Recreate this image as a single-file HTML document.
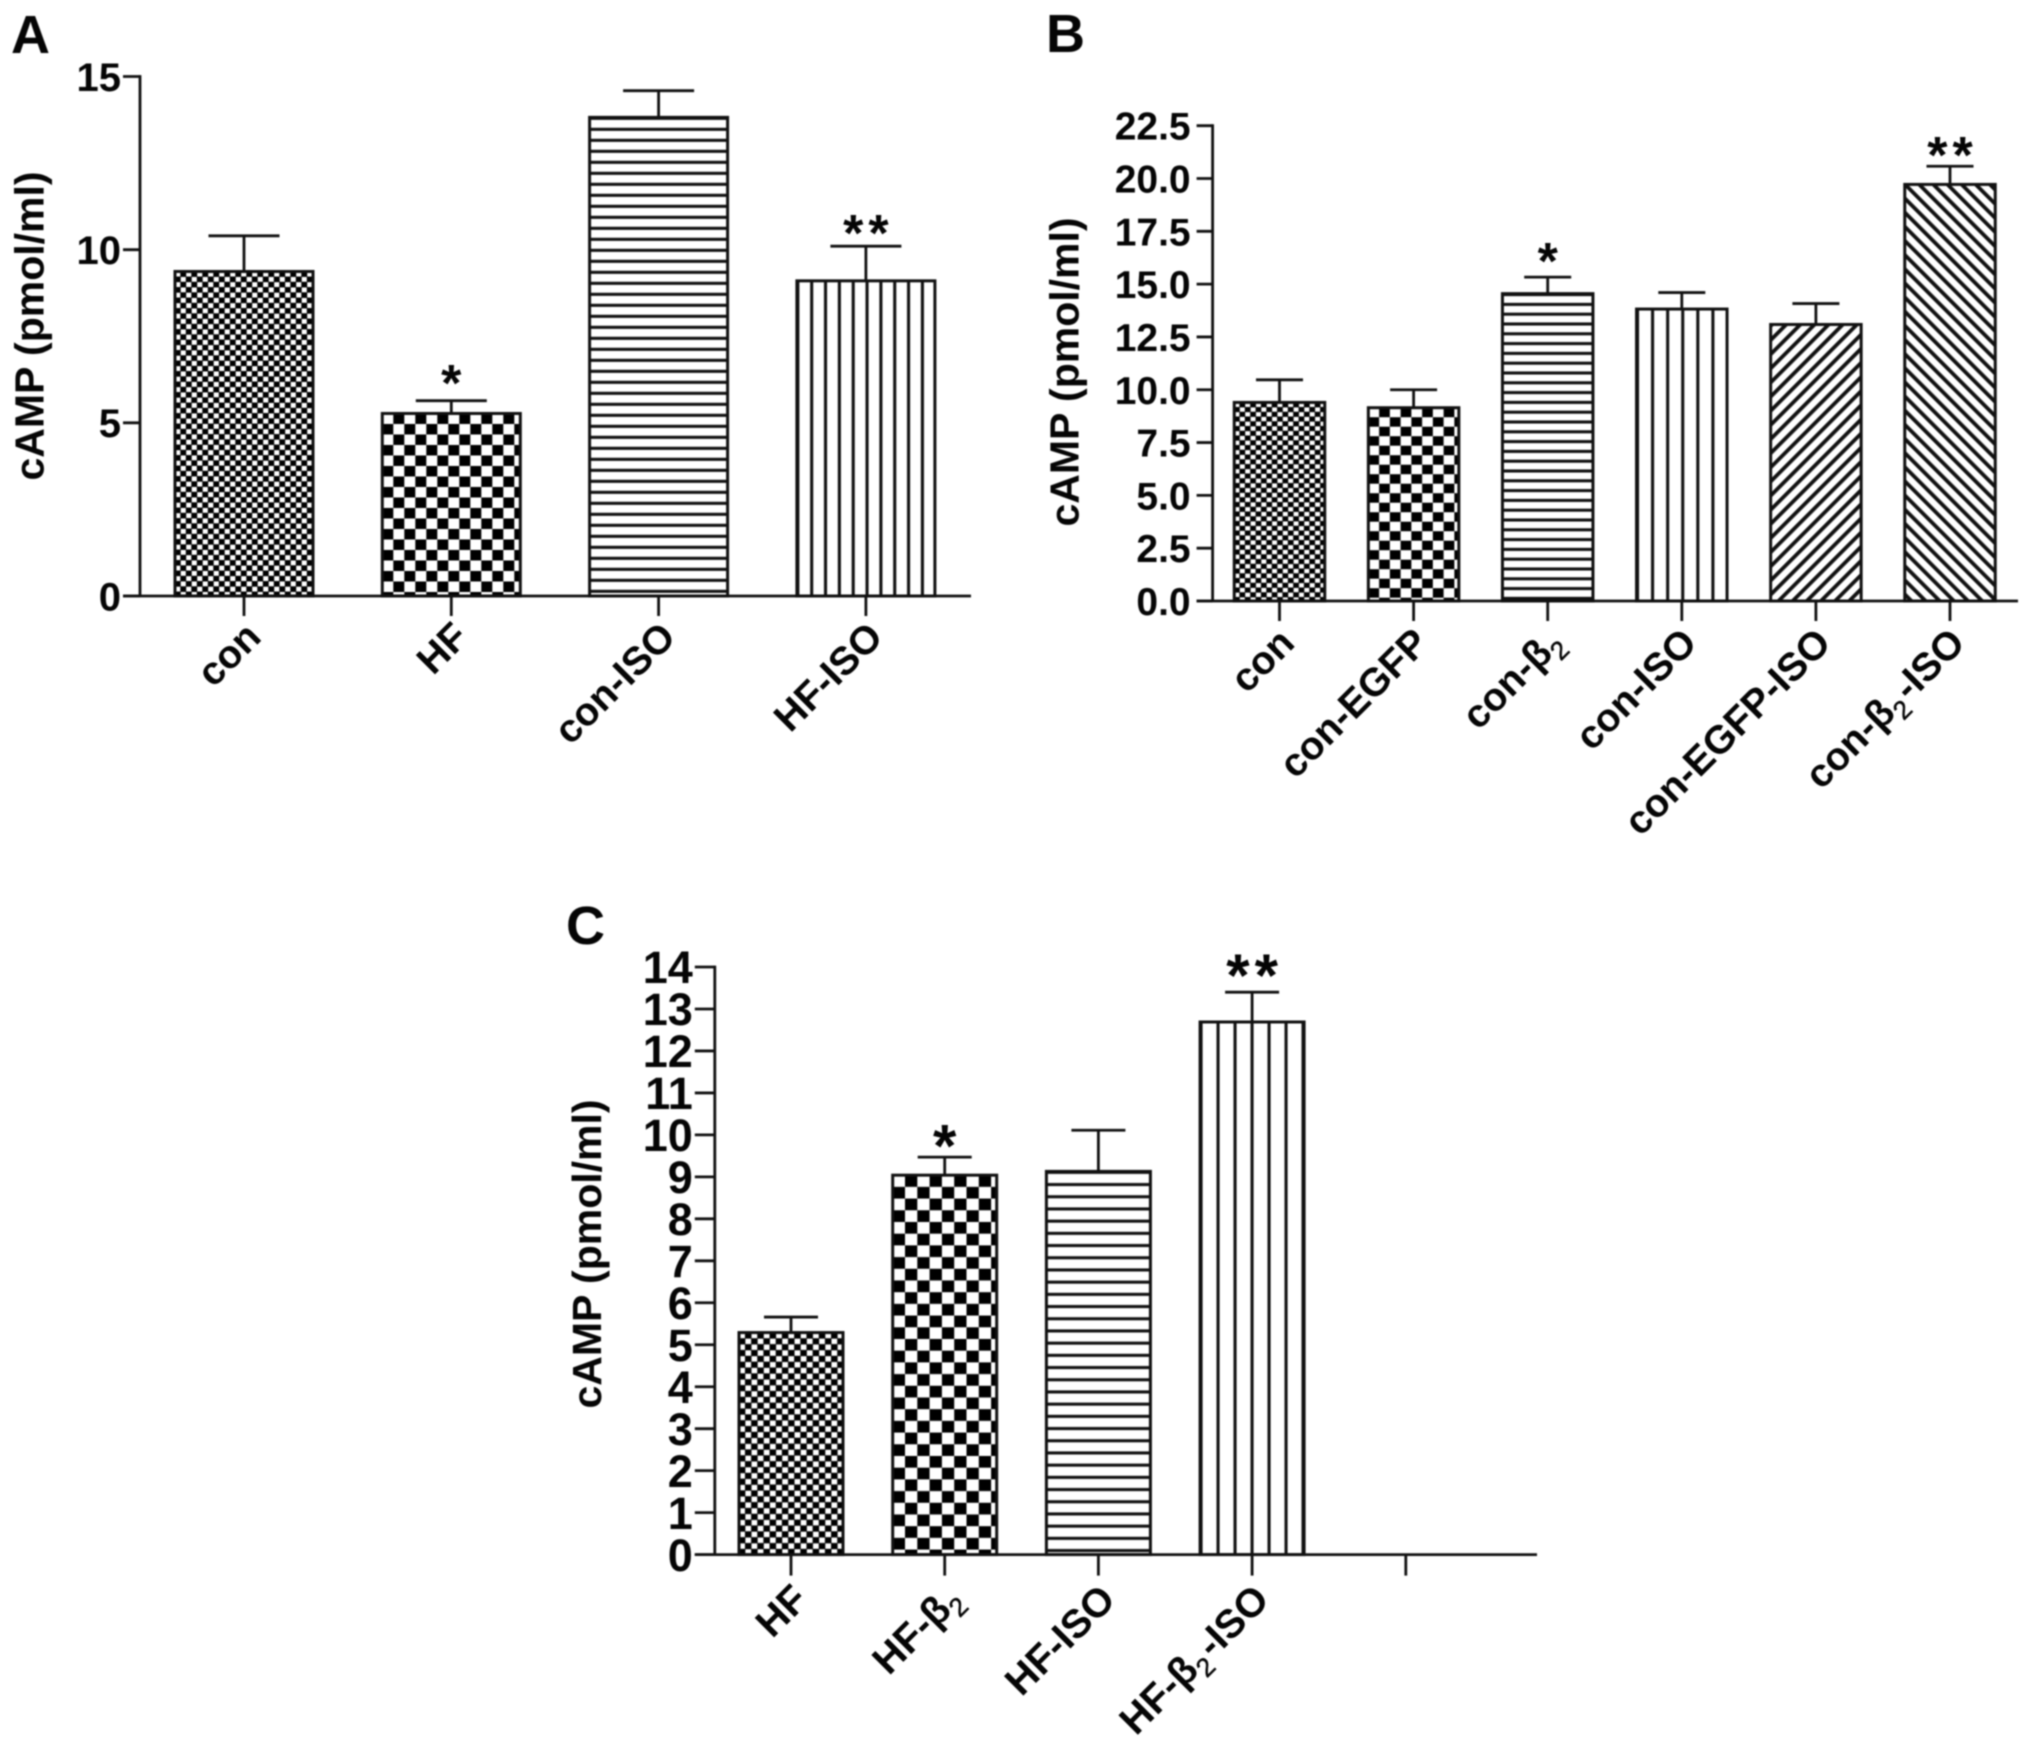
<!DOCTYPE html>
<html lang="en">
<head>
<meta charset="utf-8">
<title>cAMP bar charts</title>
<style>
html,body{margin:0;padding:0;background:#fff;width:2031px;height:1752px;overflow:hidden}
svg{display:block;filter:blur(0.7px)}
text{font-family:"Liberation Sans",Arial,sans-serif;font-weight:bold;fill:#050505}
</style>
</head>
<body>
<svg id="figure" xmlns="http://www.w3.org/2000/svg" width="2031" height="1752" viewBox="0 0 2031 1752">
<rect width="2031" height="1752" fill="#fff"/>
<defs id="defs"></defs>
</svg>
<script>
const panelACategories = ["con", "HF", "con-ISO", "HF-ISO"];
const panelAValues = [9.37, 5.27, 13.82, 9.1];
const panelAUpper = [10.4, 5.64, 14.59, 10.1];
const panelAMarks = ["", "*", "", "**"];
const panelATicks = [0, 5, 10, 15];
const panelATickLabels = ["0", "5", "10", "15"];

const panelBCategories = ["con", "con-EGFP", "con-β₂", "con-ISO", "con-EGFP-ISO", "con-β₂-ISO"];
const panelBValues = [9.4, 9.15, 14.55, 13.82, 13.09, 19.72];
const panelBUpper = [10.47, 10.0, 15.33, 14.6, 14.08, 20.58];
const panelBMarks = ["", "", "*", "", "", "**"];
const panelBTicks = [0, 2.5, 5, 7.5, 10, 12.5, 15, 17.5, 20, 22.5];
const panelBTickLabels = ["0.0", "2.5", "5.0", "7.5", "10.0", "12.5", "15.0", "17.5", "20.0", "22.5"];

const panelCCategories = ["HF", "HF-β₂", "HF-ISO", "HF-β₂-ISO", ""];
const panelCValues = [5.29, 9.04, 9.13, 12.69, null];
const panelCUpper = [5.66, 9.47, 10.11, 13.4, null];
const panelCMarks = ["", "*", "", "**", ""];
const panelCTicks = [0, 1, 2, 3, 4, 5, 6, 7, 8, 9, 10, 11, 12, 13, 14];
const panelCTickLabels = ["0", "1", "2", "3", "4", "5", "6", "7", "8", "9", "10", "11", "12", "13", "14"];

const NS = "http://www.w3.org/2000/svg";
const svg = document.getElementById("figure");
const defs = document.getElementById("defs");
let patternCount = 0;

function mk(parent, tag, attrs) {
  const el = document.createElementNS(NS, tag);
  for (const k in attrs) el.setAttribute(k, attrs[k]);
  parent.appendChild(el);
  return el;
}

function makePattern(kind, x, y, s) {
  const id = "pat" + (patternCount++);
  let p;
  if (kind === "fine" || kind === "coarse") {
    const w = kind === "fine" ? s.fineW : s.coarseW;
    const h = kind === "fine" ? s.fineH : s.coarseH;
    const cw = w / 2, ch = h / 2;
    const inset = kind === "fine" ? 0.2 : 0;
    p = mk(defs, "pattern", {id: id, patternUnits: "userSpaceOnUse", x: x, y: y, width: w, height: h});
    mk(p, "rect", {width: w, height: h, fill: "#000"});
    mk(p, "rect", {x: inset, y: inset, width: cw - 2 * inset, height: ch - 2 * inset, fill: "#fff"});
    mk(p, "rect", {x: cw + inset, y: ch + inset, width: cw - 2 * inset, height: ch - 2 * inset, fill: "#fff"});
  } else if (kind === "h") {
    p = mk(defs, "pattern", {id: id, patternUnits: "userSpaceOnUse", x: x, y: y, width: 50, height: s.h});
    mk(p, "rect", {width: 50, height: s.h, fill: "#fff"});
    mk(p, "rect", {y: 0, width: 50, height: 2.5, fill: "#111"});
    mk(p, "rect", {y: s.h - 0.6, width: 50, height: 0.6, fill: "#111"});
  } else if (kind === "v") {
    p = mk(defs, "pattern", {id: id, patternUnits: "userSpaceOnUse", x: x, y: y, width: s.v, height: 50});
    mk(p, "rect", {width: s.v, height: 50, fill: "#fff"});
    mk(p, "rect", {x: 0, width: 2.5, height: 50, fill: "#111"});
    mk(p, "rect", {x: s.v - 0.6, width: 0.6, height: 50, fill: "#111"});
  } else {
    const a = kind === "up" ? 45 : -45;
    p = mk(defs, "pattern", {id: id, patternUnits: "userSpaceOnUse", x: x, y: y, width: s.d, height: s.d, patternTransform: "rotate(" + a + ")"});
    mk(p, "rect", {width: s.d, height: s.d, fill: "#fff"});
    mk(p, "rect", {x: 0, width: s.d * 0.38, height: s.d, fill: "#111"});
  }
  return id;
}

function addLabelText(t, label, subSize) {
  const parts = label.split("₂");
  parts.forEach(function (part, i) {
    if (i > 0) {
      const sub = mk(t, "tspan", {dy: 9, "font-size": subSize, style: "font-weight:normal;stroke:#050505;stroke-width:0.5"});
      sub.textContent = "2";
      const rest = mk(t, "tspan", {dy: -9, dx: part ? 3 : 0});
      rest.textContent = part;
    } else {
      const first = mk(t, "tspan", {});
      first.textContent = part;
    }
  });
}

function drawPanel(cfg) {
  const g = mk(svg, "g", {});
  
  

  const yScale = function (v) { return cfg.y0 - (v / cfg.yMax) * (cfg.y0 - cfg.yTop); };
  const xScale = function (i) { return cfg.x0 + i * cfg.step; };

  const letter = mk(g, "text", {x: cfg.letterX, y: cfg.letterY, "font-size": 54});
  letter.textContent = cfg.letter;
  
  

  const title = mk(g, "text", {transform: "translate(" + cfg.titleX + "," + cfg.titleY + ") rotate(-90)", "text-anchor": "middle", "font-size": cfg.titleSize});
  title.textContent = "cAMP (pmol/ml)";
  
  

  cfg.categories.forEach(function (cat, i) {
    const cx = xScale(i);
    if (cfg.values[i] !== null) {
      const top = yScale(cfg.values[i]);
      const left = cx - cfg.barW / 2;
      const pid = makePattern(cfg.fills[i], left, top, cfg.spacing);
      const upper = yScale(cfg.upper[i]);

      const stem = mk(g, "line", {x1: cx, x2: cx, y1: upper, y2: top, stroke: "#111", "stroke-width": 2.8});
      
      
      const cap = mk(g, "line", {x1: cx - cfg.capW / 2, x2: cx + cfg.capW / 2, y1: upper, y2: upper, stroke: "#111", "stroke-width": 2.8});
      
      

      const bar = mk(g, "rect", {x: left, y: top, width: cfg.barW, height: cfg.y0 - top, fill: "url(#" + pid + ")", stroke: "#111", "stroke-width": 3});
      
      

      if (cfg.marks[i]) {
        const double = cfg.marks[i].length > 1;
        const gap = double ? cfg.starGapDouble : cfg.starGapSingle;
        const star = mk(g, "text", {x: cx + cfg.starSpace / 2, y: upper - gap + 0.46 * cfg.starSize, "text-anchor": "middle", "font-size": cfg.starSize, "letter-spacing": cfg.starSpace});
        star.textContent = cfg.marks[i];
        
        
      }
    }
    const tick = mk(g, "line", {x1: cx, x2: cx, y1: cfg.y0, y2: cfg.y0 + cfg.xTick, stroke: "#111", "stroke-width": 2.8});
    
    
    if (cat) {
      const lx = cx + cfg.labelDX, ly = cfg.y0 + cfg.labelDY;
      const t = mk(g, "text", {transform: "translate(" + lx + "," + ly + ") rotate(-45)", "text-anchor": "end", "font-size": cfg.labelSize});
      addLabelText(t, cat, cfg.labelSize * 0.66);
      
      
    }
  });

  const yAxis = mk(g, "line", {x1: cfg.axisX, x2: cfg.axisX, y1: cfg.yTop - 1.4, y2: cfg.y0, stroke: "#111", "stroke-width": 2.8});
  
  
  const xAxis = mk(g, "line", {x1: cfg.axisX - cfg.yTick, x2: cfg.xEnd, y1: cfg.y0, y2: cfg.y0, stroke: "#111", "stroke-width": 2.8});
  
  

  cfg.ticks.forEach(function (v, i) {
    const y = yScale(v);
    const tick = mk(g, "line", {x1: cfg.axisX - cfg.yTick, x2: cfg.axisX, y1: y, y2: y, stroke: "#111", "stroke-width": 2.8});
    
    
    const t = mk(g, "text", {x: cfg.axisX - cfg.yTick - cfg.numGap, y: y + cfg.numSize * 0.36, "text-anchor": "end", "font-size": cfg.numSize});
    t.textContent = cfg.tickLabels[i];
    
    
  });
}

drawPanel({
  name: "panel-a", letter: "A", letterX: 11, letterY: 53,
  categories: panelACategories, values: panelAValues, upper: panelAUpper, marks: panelAMarks,
  ticks: panelATicks, tickLabels: panelATickLabels, yMax: 15,
  fills: ["fine", "coarse", "h", "v"],
  spacing: {fineW: 11, fineH: 10.5, coarseW: 22, coarseH: 21, h: 11, v: 13.84, d: 10},
  axisX: 140, y0: 596, yTop: 76.5, xEnd: 971, yTick: 17, xTick: 20,
  x0: 244, step: 207.3, barW: 138, capW: 71,
  titleX: 43.5, titleY: 326, titleSize: 41, numSize: 40, numGap: 2,
  labelSize: 39.5, labelDX: 19, labelDY: 43, starSize: 52, starSpace: 5, starGapSingle: 23.5, starGapDouble: 19
});

drawPanel({
  name: "panel-b", letter: "B", letterX: 1046, letterY: 52,
  categories: panelBCategories, values: panelBValues, upper: panelBUpper, marks: panelBMarks,
  ticks: panelBTicks, tickLabels: panelBTickLabels, yMax: 22.5,
  fills: ["fine", "coarse", "h", "v", "up", "down"],
  spacing: {fineW: 10.75, fineH: 9.5, coarseW: 21.5, coarseH: 19, h: 9.8, v: 15.08, d: 10},
  axisX: 1212.6, y0: 601, yTop: 125.7, xEnd: 2018, yTick: 16, xTick: 20,
  x0: 1279.5, step: 134.1, barW: 90.5, capW: 47,
  titleX: 1078.5, titleY: 372, titleSize: 41, numSize: 39, numGap: 6,
  labelSize: 39.5, labelDX: 17, labelDY: 44, starSize: 52, starSpace: 5, starGapSingle: 22, starGapDouble: 17
});

drawPanel({
  name: "panel-c", letter: "C", letterX: 566, letterY: 944,
  categories: panelCCategories, values: panelCValues, upper: panelCUpper, marks: panelCMarks,
  ticks: panelCTicks, tickLabels: panelCTickLabels, yMax: 14,
  fills: ["fine", "coarse", "h", "v"],
  spacing: {fineW: 12.3, fineH: 11.7, coarseW: 24.6, coarseH: 23.4, h: 12.2, v: 17, d: 10},
  axisX: 714.8, y0: 1554.6, yTop: 967, xEnd: 1537, yTick: 20, xTick: 21,
  x0: 791, step: 153.7, barW: 104, capW: 54,
  titleX: 601, titleY: 1254, titleSize: 41, numSize: 45, numGap: 2,
  labelSize: 40, labelDX: 19, labelDY: 47, starSize: 60, starSpace: 5, starGapSingle: 18, starGapDouble: 24
});
</script>
</body>
</html>
